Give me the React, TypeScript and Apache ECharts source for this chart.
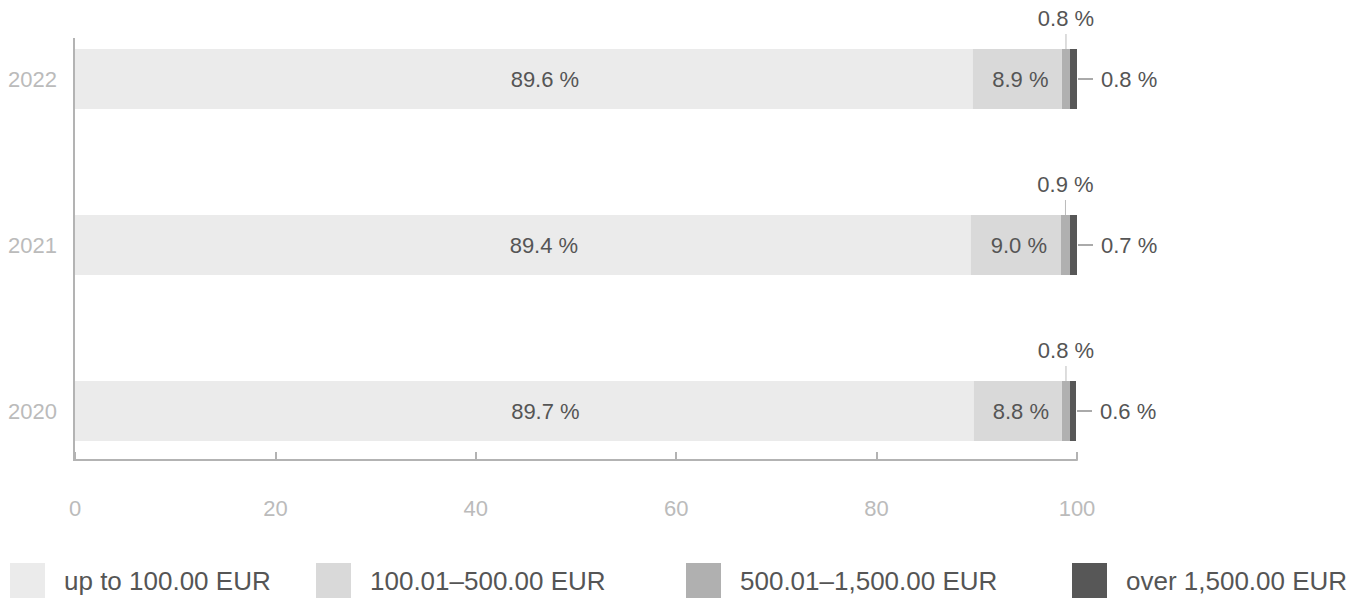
import React, { useEffect, useRef } from "react";
import * as echarts from "echarts";

const years = ["2020", "2021", "2022"];
const seriesNames = ["up to 100.00 EUR", "100.01–500.00 EUR", "500.01–1,500.00 EUR", "over 1,500.00 EUR"];
const upTo100 = [89.7, 89.4, 89.6];
const from100to500 = [8.8, 9.0, 8.9];
const from500to1500 = [0.8, 0.9, 0.8];
const over1500 = [0.6, 0.7, 0.8];
const colors = ["#ebebeb", "#d9d9d9", "#b0b0b0", "#575757"];
const xTicks = [0, 20, 40, 60, 80, 100];

const FONT = "'Liberation Sans', Arial, sans-serif";
const fmt = (p: any) => `${Number(p.value).toFixed(1)} %`;
const SHIFT = 10;

export default function App() {
  const ref = useRef<HTMLDivElement>(null);
  useEffect(() => {
    if (!ref.current) return;
    const chart = echarts.init(ref.current, null, { renderer: "svg" });
    const values = [upTo100, from100to500, from500to1500, over1500];
    const legendLefts = [10, 316, 686, 1072];
    const series = values.map((data, i) => {
      const s: any = {
        name: seriesNames[i],
        type: "bar",
        stack: "total",
        barWidth: 60,
        data,
        itemStyle: { color: colors[i] },
        label: {
          show: true,
          formatter: fmt,
          color: "#555",
          fontSize: 22,
          fontFamily: FONT,
        },
      };
      if (i === 0) {
        s.label.position = "inside";
        s.label.offset = [21, 0];
      }
      if (i === 1) {
        s.label.position = "inside";
        s.label.offset = [3, 0];
      }
      if (i === 2) {
        s.label.position = "top";
        s.label.distance = 0;
        s.label.lineHeight = 32;
        s.labelLayout = { dy: -15 };
        s.labelLine = { show: true, lineStyle: { color: "#bbb", width: 1 } };
      }
      if (i === 3) {
        s.label.position = "right";
        s.label.distance = 1;
        s.label.formatter = (p: any) => `{l|}{g|}{t|${Number(p.value).toFixed(1)} %}`;
        s.label.rich = {
          l: { width: 15, height: 1, backgroundColor: "#555" },
          g: { width: 8 },
          t: { color: "#555", fontSize: 22, fontFamily: FONT },
        };
      }
      return s;
    });
    chart.setOption({
      animation: false,
      textStyle: { fontFamily: FONT },
      grid: { left: 75, right: 285, top: 6, bottom: 105, containLabel: false },
      xAxis: {
        type: "value",
        min: 0,
        max: 100,
        interval: 20,
        offset: -34,
        axisLine: { show: true, lineStyle: { color: "#b3b3b3", width: 2 } },
        axisTick: { show: true, inside: true, length: 8, lineStyle: { color: "#b3b3b3", width: 2 } },
        axisLabel: { color: "#bbb", fontSize: 22, margin: 37, fontFamily: FONT,
          formatter: (v: number) => (xTicks.includes(v) ? String(v) : "") },
        splitLine: { show: false },
      },
      yAxis: {
        type: "category",
        data: years,
        axisLine: { show: false },
        axisTick: { show: false },
        axisLabel: { color: "#bbb", fontSize: 22, margin: 18, fontFamily: FONT },
      },
      legend: legendLefts.map((left, i) => ({
        data: [seriesNames[i]],
        left,
        bottom: 1,
        padding: 0,
        icon: "rect",
        itemWidth: 35,
        itemHeight: 35,
        selectedMode: false,
        textStyle: { color: "#555", fontSize: 26, fontFamily: FONT, padding: [0, 0, 0, 14] },
      })),
      graphic: [
        {
          type: "line",
          shape: { x1: 74, y1: 38 + SHIFT, x2: 74, y2: 461 + SHIFT },
          style: { stroke: "#b3b3b3", lineWidth: 2 },
        },
      ],
      series,
    });
    return () => chart.dispose();
  }, []);
  return (
    <div
      ref={ref}
      style={{ width: 1362, height: 599 + SHIFT, position: "absolute", left: 0, top: -SHIFT }}
    />
  );
}
